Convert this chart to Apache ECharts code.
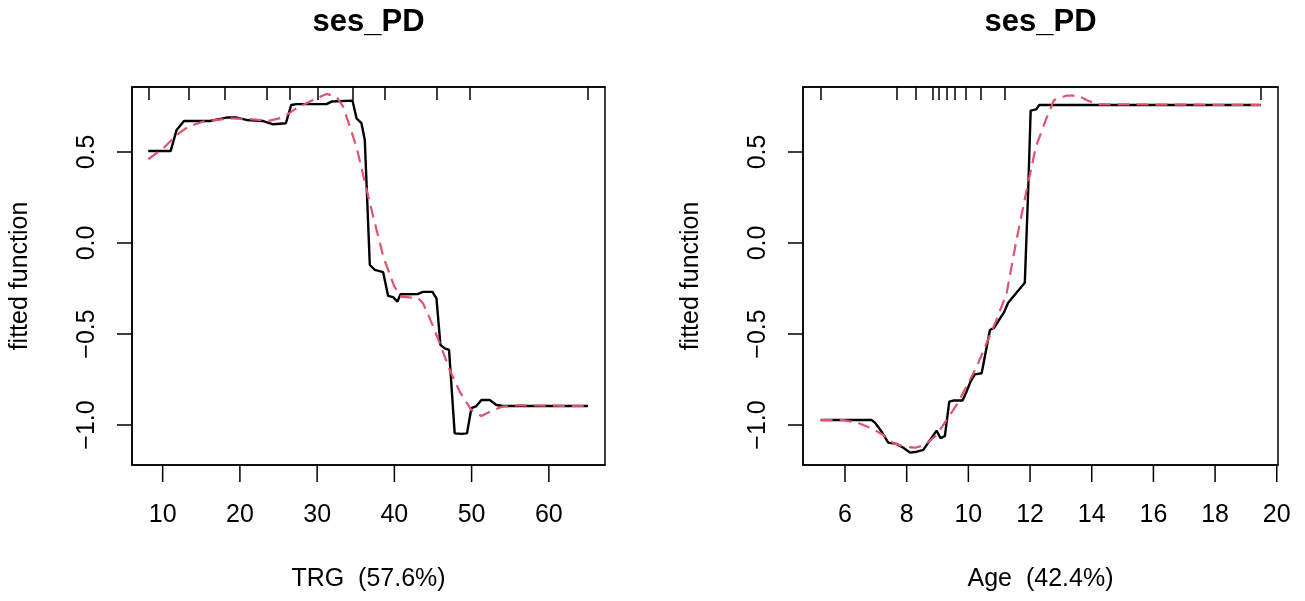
<!DOCTYPE html>
<html>
<head>
<meta charset="utf-8">
<script src="https://cdn.jsdelivr.net/npm/echarts@6/dist/echarts.min.js"></script>
<style>html,body{margin:0;padding:0;background:#fff;}#c{width:1305px;height:601px;}</style>
</head>
<body>
<div id="c"></div>
<script>
// ---- data ----
const plotTitles = ['ses_PD', 'ses_PD'];
const xTitles = ['TRG  (57.6%)', 'Age  (42.4%)'];
const yTitle = 'fitted function';

const trgTicks = [10, 20, 30, 40, 50, 60];
const ageTicks = [6, 8, 10, 12, 14, 16, 18, 20];
const yTicks = [-1.0, -0.5, 0.0, 0.5];

const trgRug = [8.14, 13.44, 18.06, 23.45, 26.47, 30.05, 34.58, 38.76, 45.44, 49.74, 65.05];
const ageRug = [5.21, 7.67, 8.29, 8.83, 9.05, 9.30, 9.56, 9.91, 10.40, 11.19, 19.49];

const trgFitX = [8.14, 11.03, 11.81, 12.76, 16.12, 18.28, 19.57, 20.86, 23.02, 24.31, 25.95, 26.64, 27.33, 29.92, 31.21, 31.86, 34.58, 35.1, 35.74, 36.17, 36.82, 37.47, 38.54, 39.19, 39.83, 40.4, 40.79, 43.07, 43.71, 44.93, 45.45, 45.96, 46.52, 47.08, 47.81, 48.68, 49.4, 49.97, 50.62, 51.27, 52.34, 53.21, 54.06, 65.06];
const trgFitY = [0.505, 0.505, 0.621, 0.670, 0.670, 0.689, 0.689, 0.676, 0.670, 0.652, 0.658, 0.758, 0.763, 0.763, 0.763, 0.777, 0.782, 0.685, 0.658, 0.566, -0.121, -0.148, -0.160, -0.291, -0.298, -0.322, -0.282, -0.280, -0.269, -0.269, -0.304, -0.560, -0.579, -0.588, -1.046, -1.049, -1.046, -0.908, -0.896, -0.863, -0.863, -0.890, -0.896, -0.896];

const trgSmoothX = [8.14, 10.08, 11.81, 13.31, 15.25, 18.71, 21.29, 23.88, 25.6, 27.33, 29.27, 31.21, 32.5, 33.37, 35.09, 36.82, 38.6, 40.0, 40.9, 43.07, 43.71, 44.58, 45.87, 47.17, 48.46, 49.97, 51.27, 52.77, 54.06, 55.8, 65.06];
const trgSmoothY = [0.460, 0.520, 0.593, 0.639, 0.667, 0.685, 0.680, 0.672, 0.690, 0.740, 0.782, 0.819, 0.804, 0.749, 0.529, 0.220, -0.080, -0.240, -0.295, -0.304, -0.331, -0.414, -0.551, -0.698, -0.817, -0.918, -0.951, -0.918, -0.899, -0.892, -0.896];

const ageFitX = [5.21, 6.86, 6.97, 7.19, 7.40, 7.67, 7.89, 8.11, 8.33, 8.54, 8.76, 8.97, 9.10, 9.24, 9.38, 9.51, 9.81, 9.94, 10.07, 10.21, 10.43, 10.70, 10.84, 11.08, 11.15, 11.29, 11.83, 11.94, 12.02, 12.20, 12.30, 19.48];
const ageFitY = [-0.973, -0.973, -0.987, -1.037, -1.097, -1.104, -1.125, -1.152, -1.147, -1.137, -1.082, -1.031, -1.073, -1.060, -0.872, -0.866, -0.866, -0.817, -0.762, -0.722, -0.716, -0.478, -0.465, -0.401, -0.383, -0.328, -0.218, 0.290, 0.727, 0.734, 0.758, 0.758];

const ageSmoothX = [5.21, 5.95, 6.39, 6.86, 7.24, 7.57, 7.89, 8.27, 8.59, 8.97, 9.29, 9.62, 9.94, 10.27, 10.59, 10.91, 11.24, 11.56, 11.89, 12.19, 12.51, 12.78, 13.19, 13.56, 13.83, 14.16, 19.48];
const ageSmoothY = [-0.973, -0.973, -0.987, -1.018, -1.055, -1.100, -1.118, -1.125, -1.110, -1.055, -0.973, -0.890, -0.789, -0.680, -0.551, -0.423, -0.277, 0.016, 0.291, 0.529, 0.676, 0.786, 0.810, 0.810, 0.786, 0.762, 0.758];

// ---- chart ----
const FONT = "'Liberation Sans', Arial, Helvetica, sans-serif";
const RED = '#DF536B';
const zip = (xs, ys) => xs.map((x, i) => [x, ys[i]]);
const fmtY = v => (v < 0 ? '\u2212' : '') + Math.abs(v).toFixed(1);

// main plot boxes + thin strips just below them (for the outward x ticks)
const grids = [
  { left: 132, width: 473, top: 87, height: 378, show: true, borderColor: '#000', borderWidth: 1.5, backgroundColor: 'transparent' },
  { left: 803, width: 475, top: 87, height: 378, show: true, borderColor: '#000', borderWidth: 1.5, backgroundColor: 'transparent' },
  { left: 132, width: 473, top: 465, height: 17, show: false },
  { left: 803, width: 475, top: 465, height: 17, show: false }
];
const xr = [[6.03, 67.27], [4.638, 20.04]];
const yr = [-1.22, 0.857];
const xTickSets = [trgTicks, ageTicks];
const rugSets = [trgRug, ageRug];
const lineStyleBlack = () => ({ color: '#000', width: 1.5 });

const xAxes = [], yAxes = [];
for (let i = 0; i < 2; i++) {
  yAxes.push({
    type: 'value', gridIndex: i, min: yr[0], max: yr[1],
    name: yTitle, nameLocation: 'middle', nameGap: 99, nameRotate: 90,
    nameTextStyle: { fontFamily: FONT, fontSize: 25, color: '#000' },
    axisLine: { show: true, onZero: false, lineStyle: lineStyleBlack() },
    axisTick: { show: true, length: 15, lineStyle: lineStyleBlack(), customValues: yTicks.slice() },
    axisLabel: { show: true, rotate: 90, margin: 32, fontFamily: FONT, fontSize: 25, color: '#000', customValues: yTicks.slice(), formatter: fmtY },
    splitLine: { show: false }
  });
}
for (let i = 0; i < 2; i++) {
  yAxes.push({ type: 'value', gridIndex: 2 + i, min: 0, max: 1, show: false });
}
for (let i = 0; i < 2; i++) {
  xAxes.push({
    type: 'value', gridIndex: i, min: xr[i][0], max: xr[i][1], position: 'bottom',
    name: xTitles[i], nameLocation: 'middle', nameGap: 102,
    nameTextStyle: { fontFamily: FONT, fontSize: 25, color: '#000' },
    axisLine: { show: true, onZero: false, lineStyle: lineStyleBlack() },
    axisTick: { show: false },
    axisLabel: { show: true, margin: 38, fontFamily: FONT, fontSize: 25, color: '#000', customValues: xTickSets[i].slice(), formatter: v => String(v) },
    splitLine: { show: false }
  });
  xAxes.push({
    type: 'value', gridIndex: i, min: xr[i][0], max: xr[i][1], position: 'top',
    axisLine: { show: true, onZero: false, lineStyle: lineStyleBlack() },
    axisTick: { show: true, inside: true, length: 13, lineStyle: lineStyleBlack(), customValues: rugSets[i].slice() },
    axisLabel: { show: false, customValues: rugSets[i].slice() },
    splitLine: { show: false }
  });
}
for (let i = 0; i < 2; i++) {
  // strip axis for the outward ticks (no ticks of its own; the marks come from the scatter below)
  xAxes.push({
    type: 'value', gridIndex: 2 + i, min: xr[i][0], max: xr[i][1], position: 'top',
    show: false
  });
}

const lineSeries = (xi, yi, data, dashed) => ({
  type: 'line', xAxisIndex: xi, yAxisIndex: yi, data: data,
  showSymbol: false, symbol: 'none', silent: true, animation: false,
  lineStyle: dashed ? { color: RED, width: 2.2, type: [12, 7] } : { color: '#000', width: 2.4 },
  z: dashed ? 3 : 2
});

// outward x-axis ticks: thin rect marks centred in the strip below each box
const tickMarks = (xi, yi, ticks) => ({
  type: 'scatter', xAxisIndex: xi, yAxisIndex: yi, silent: true, animation: false,
  clip: false, z: 10,
  symbol: 'rect', symbolSize: [1.5, 17],
  itemStyle: { color: '#000', opacity: 1 },
  data: ticks.map(v => [v, 0.5])
});

const option = {
  backgroundColor: '#fff',
  animation: false,
  grid: grids,
  xAxis: xAxes,
  yAxis: yAxes,
  graphic: [
    { type: 'text', x: 368.5, y: 22, style: { text: plotTitles[0], font: "bold 31px " + FONT, fill: '#000', align: 'center', verticalAlign: 'middle' } },
    { type: 'text', x: 1040.5, y: 22, style: { text: plotTitles[1], font: "bold 31px " + FONT, fill: '#000', align: 'center', verticalAlign: 'middle' } }
  ],
  series: [
    lineSeries(0, 0, zip(trgFitX, trgFitY), false),
    lineSeries(0, 0, zip(trgSmoothX, trgSmoothY), true),
    lineSeries(2, 1, zip(ageFitX, ageFitY), false),
    lineSeries(2, 1, zip(ageSmoothX, ageSmoothY), true),
    tickMarks(4, 2, trgTicks.slice()),
    tickMarks(5, 3, ageTicks.slice())
  ]
};
const chart = echarts.init(document.getElementById('c'), null, { renderer: 'canvas' });
chart.setOption(option);
</script>
</body>
</html>
